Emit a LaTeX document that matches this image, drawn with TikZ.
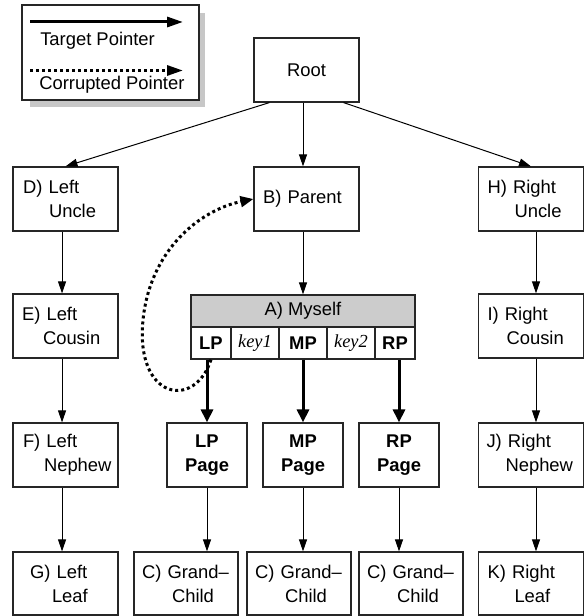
\documentclass[tikz,border=0pt]{standalone}
\usepackage{fontspec}
\setmainfont{Liberation Sans}
\newfontfamily\keyfont{Liberation Serif}
\usetikzlibrary{arrows.meta}
\newcommand{\boxfont}{\fontsize{13.8}{18}\selectfont}
\tikzset{
    box/.style={draw=black!85, line width=0.9pt, inner sep=0pt, minimum width=78.75pt,
        minimum height=48pt, text width=78.75pt, align=left},
    pagebox/.style={box, minimum width=60pt, text width=60pt, align=center, font=\boxfont\bfseries},
    gcbox/.style={box, minimum width=78pt, text width=78pt, minimum height=47.25pt},
    cell/.style={draw=black!85, line width=0.9pt, inner sep=0pt, minimum height=24pt},
    ptr/.style={-{Triangle[length=9pt,width=6pt]}, line width=0.75pt},
    target/.style={-{Triangle[length=9.75pt,width=9pt]}, line width=2.25pt},
    corrupt/.style={-{Triangle[length=9.75pt,width=8pt]}, line width=2.25pt, dash pattern=on 2.25pt off 2.25pt},
}

\begin{document}
\begin{tikzpicture}[x=0.75pt, y=-0.75pt, font=\boxfont]
    \useasboundingbox (0,0) rectangle (587,616);

    % legend
    \fill[black!22] (30,13) rectangle (205,107);
    \draw[draw=black!85, line width=0.9pt, fill=white] (22,5) rectangle (199,100);
    \coordinate (tgtfrom) at (30,22);
    \coordinate (tgtto) at (183,22);
    \draw[target, -{Triangle[length=12pt,width=7.5pt]}] (tgtfrom) -- (tgtto);
    \node[anchor=base west, inner sep=0pt] (tgtlabel) at (40,46) {Target Pointer};
    \coordinate (badfrom) at (30,70.5);
    \coordinate (badto) at (183,70.5);
    \draw[corrupt, -{Triangle[length=12pt,width=7.5pt]}] (badfrom) -- (badto);
    \node[anchor=base west, inner sep=0pt] (badlabel) at (39,90) {Corrupted Pointer};

    % tree
    \node[box, align=center] (root) at (306.5,70) {Root};
    \node[box] (parent) at (306.5,199) {\hspace*{6.75pt}B) Parent};

    \node[box] (luncle) at (65.5,199) {\hspace*{7.5pt}D) Left\\\hspace*{27pt}Uncle};
    \node[box] (lcousin) at (65.5,326) {\hspace*{6.75pt}E) Left\\\hspace*{22.5pt}Cousin};
    \node[box] (lnephew) at (65.5,455) {\hspace*{7.5pt}F) Left\\\hspace*{23.25pt}Nephew};
    \node[box, minimum height=47.25pt] (lleaf) at (65.5,583.5) {\hspace*{12.75pt}G) Left\\\hspace*{29.25pt}Leaf};

    \node[box] (runcle) at (531,199) {\hspace*{6.75pt}H) Right\\\hspace*{27pt}Uncle};
    \node[box] (rcousin) at (531,326) {\hspace*{6.75pt}I) Right\\\hspace*{21pt}Cousin};
    \node[box] (rnephew) at (531,455) {\hspace*{6pt}J) Right\\\hspace*{20.25pt}Nephew};
    \node[box, minimum height=47.25pt] (rleaf) at (531,583.5) {\hspace*{6.75pt}K) Right\\\hspace*{27pt}Leaf};

    % myself with its pointers and keys
    \node[cell, fill=black!20, minimum width=168pt] (myself) at (303,311) {A) Myself};
    \node[cell, minimum width=30pt] (lp) at (211,343) {\bfseries LP};
    \node[cell, minimum width=36pt] (key1) at (255,343) {\keyfont\itshape key1};
    \node[cell, minimum width=36pt] (mp) at (303,343) {\bfseries MP};
    \node[cell, minimum width=36pt] (key2) at (351,343) {\keyfont\itshape key2};
    \node[cell, minimum width=30pt] (rp) at (395,343) {\bfseries RP};

    \node[pagebox] (lppage) at (207,455) {LP\\Page};
    \node[pagebox] (mppage) at (303,455) {MP\\Page};
    \node[pagebox] (rppage) at (399,455) {RP\\Page};

    \node[gcbox] (gcl) at (186,583.5) {\hspace*{6pt}C) Grand–\\\hspace*{28.5pt}Child};
    \node[gcbox] (gcm) at (299,583.5) {\hspace*{6pt}C) Grand–\\\hspace*{28.5pt}Child};
    \node[gcbox] (gcr) at (411,583.5) {\hspace*{6pt}C) Grand–\\\hspace*{28.5pt}Child};

    % connectors
    \draw[ptr] ([xshift=12pt]root.south west) -- (luncle.north);
    \draw[ptr] ([xshift=-12pt]root.south east) -- (runcle.north);
    \draw[ptr] (root.south -| myself.north) -- (parent.north -| myself.north);
    \draw[ptr] (parent.south -| myself.north) -- (myself.north);
    \foreach \a/\b in {luncle/lcousin, lcousin/lnephew, lnephew/lleaf}
        \draw[ptr] ([xshift=-2.6pt]\a.south) -- ([xshift=-2.6pt]\b.north);
    \foreach \a/\b in {runcle/rcousin, rcousin/rnephew, rnephew/rleaf}
        \draw[ptr] ([xshift=3.75pt]\a.south) -- ([xshift=3.75pt]\b.north);
    \foreach \p in {lp, mp, rp}
        \draw[target] (\p page.north |- \p.south) -- (\p page.north);
    \foreach \p/\g in {lp/gcl, mp/gcm, rp/gcr}
        \draw[ptr] (\p page.south) -- (\p page.south |- \g.north);

    % the bad pointer back up to the parent
    \draw[corrupt] (lp.south) .. controls (195,410) and (135,400) .. (143,320)
        .. controls (150,250) and (200,210) .. (parent.west);
\end{tikzpicture}
\end{document}
